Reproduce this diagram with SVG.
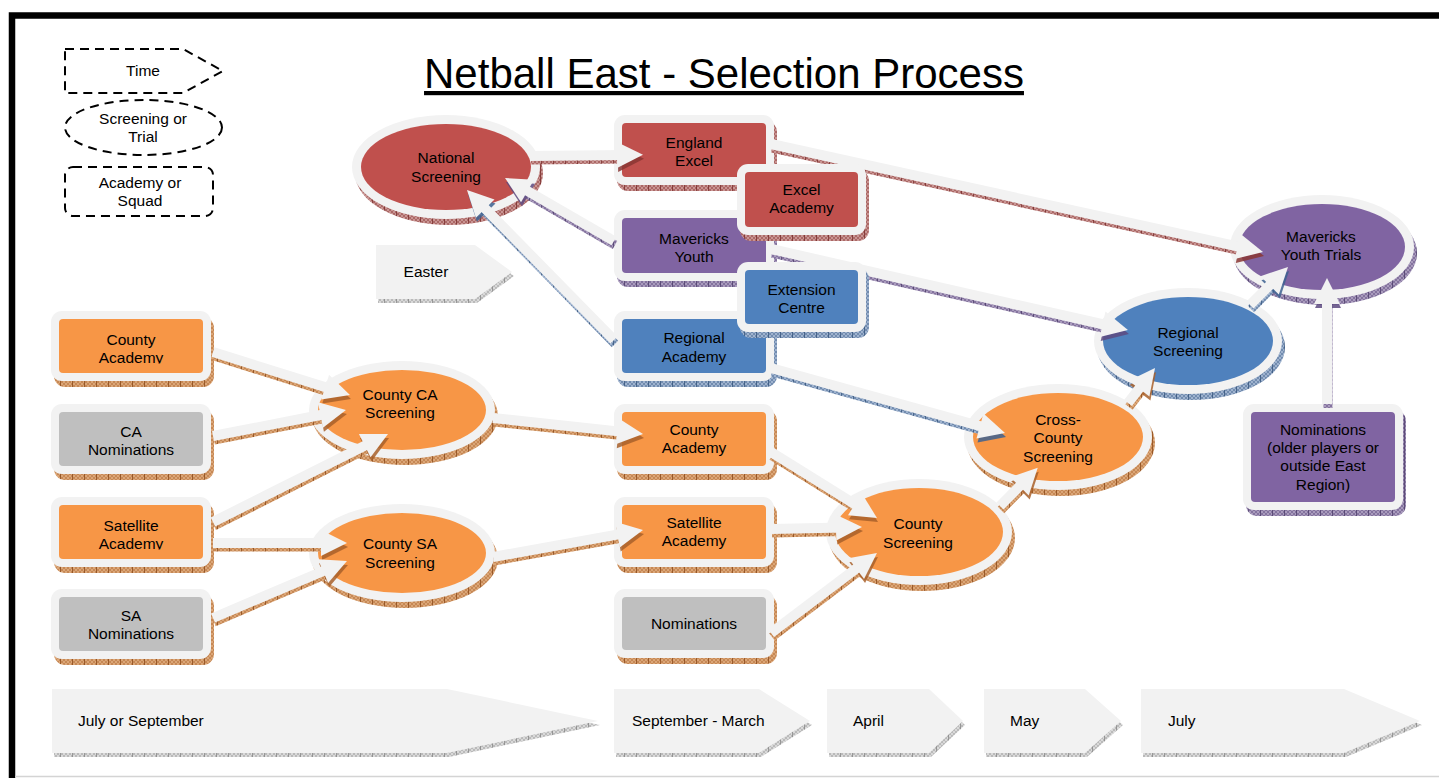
<svg xmlns="http://www.w3.org/2000/svg" width="1439" height="778" viewBox="0 0 1439 778">
<style>
.t{font-family:"Liberation Sans",Arial,sans-serif;font-size:15.5px;fill:#000;text-anchor:middle}
.tl{text-anchor:start}
.ring{fill:#f2f2f2}
.or{fill:#f79646}.rd{fill:#c0504d}.pu{fill:#8064a2}.bl{fill:#4f81bd}.gr{fill:#bfbfbf}
.dash{fill:#fff;stroke:#000;stroke-width:2;stroke-dasharray:9 6}
.tm{fill:#f2f2f2}
.ar{fill:none;stroke:#f2f2f2;stroke-width:10}
.sh{fill:none;stroke-width:9}
</style>
<defs>
<pattern id="hO" patternUnits="userSpaceOnUse" width="12" height="4"><rect width="12" height="4" fill="#dba677"/><path d="M0,4L4,0M4,4L8,0M8,4L12,0M0,0L4,4M4,0L8,4M8,0L12,4" stroke="#b06a33" stroke-width="0.5"/><path d="M0.5,0V4" stroke="#8c4a1a" stroke-width="0.8"/></pattern>
<pattern id="hR" patternUnits="userSpaceOnUse" width="12" height="4"><rect width="12" height="4" fill="#c99593"/><path d="M0,4L4,0M4,4L8,0M8,4L12,0M0,0L4,4M4,0L8,4M8,0L12,4" stroke="#8c3b39" stroke-width="0.5"/><path d="M0.5,0V4" stroke="#7a2e2c" stroke-width="0.8"/></pattern>
<pattern id="hP" patternUnits="userSpaceOnUse" width="12" height="4"><rect width="12" height="4" fill="#a99bbd"/><path d="M0,4L4,0M4,4L8,0M8,4L12,0M0,0L4,4M4,0L8,4M8,0L12,4" stroke="#5f4b7f" stroke-width="0.5"/><path d="M0.5,0V4" stroke="#4e3d6b" stroke-width="0.8"/></pattern>
<pattern id="hB" patternUnits="userSpaceOnUse" width="12" height="4"><rect width="12" height="4" fill="#9fb3cf"/><path d="M0,4L4,0M4,4L8,0M8,4L12,0M0,0L4,4M4,0L8,4M8,0L12,4" stroke="#44648f" stroke-width="0.5"/><path d="M0.5,0V4" stroke="#36547c" stroke-width="0.8"/></pattern>
<pattern id="hG" patternUnits="userSpaceOnUse" width="12" height="4"><rect width="12" height="4" fill="#d9d9d9"/><path d="M0,4L4,0M4,4L8,0M8,4L12,0M0,0L4,4M4,0L8,4M8,0L12,4" stroke="#9a9a9a" stroke-width="0.5"/><path d="M0.5,0V4" stroke="#888" stroke-width="0.8"/></pattern>
<marker id="mW" markerUnits="userSpaceOnUse" orient="auto" overflow="visible" markerWidth="40" markerHeight="40" refX="0" refY="0"><path d="M-8,-13L18,0L-8,13Z" fill="#f2f2f2"/></marker>
<marker id="mO" markerUnits="userSpaceOnUse" orient="auto" overflow="visible" markerWidth="40" markerHeight="40" refX="0" refY="0"><path d="M-8,-13L18,0L-8,13Z" fill="#a8602a" fill-opacity="0.85"/></marker>
<marker id="mR" markerUnits="userSpaceOnUse" orient="auto" overflow="visible" markerWidth="40" markerHeight="40" refX="0" refY="0"><path d="M-8,-13L18,0L-8,13Z" fill="#8a3634" fill-opacity="0.85"/></marker>
<marker id="mP" markerUnits="userSpaceOnUse" orient="auto" overflow="visible" markerWidth="40" markerHeight="40" refX="0" refY="0"><path d="M-8,-13L18,0L-8,13Z" fill="#5d4a80" fill-opacity="0.85"/></marker>
<marker id="mB" markerUnits="userSpaceOnUse" orient="auto" overflow="visible" markerWidth="40" markerHeight="40" refX="0" refY="0"><path d="M-8,-13L18,0L-8,13Z" fill="#3d6190" fill-opacity="0.85"/></marker>
<clipPath id="clipCA"><rect x="50" y="300" width="170" height="63.5"/></clipPath>
<clipPath id="clipSA"><rect x="50" y="490" width="170" height="59.5"/></clipPath>
</defs>

<rect width="1439" height="778" fill="#fff"/>
<g id="frame">
<path d="M12,778V15.5H1439" fill="none" stroke="#000" stroke-width="6.5"/>
<line x1="15" y1="776.5" x2="1439" y2="776.5" stroke="#d4d4d4" stroke-width="1.5"/>
</g>

<text id="title" class="t" x="724" y="88" style="font-size:42px" text-decoration="underline">Netball East - Selection Process</text>

<g id="legend">
<g id="legend-time"><path class="dash" d="M65,49H183L223,71L183,93H65Z"/><text class="t" x="143" y="76">Time</text></g>
<g id="legend-screening"><ellipse class="dash" cx="143.5" cy="127.5" rx="78.5" ry="27.5"/><text class="t" x="143" y="124">Screening or</text><text class="t" x="143" y="142">Trial</text></g>
<g id="legend-academy"><rect class="dash" x="65" y="167" width="148" height="49" rx="8"/><text class="t" x="140" y="188">Academy or</text><text class="t" x="140" y="206">Squad</text></g>
</g>

<g id="timeline">
<g id="time-july-sept"><polygon points="54,693 449,693 600,725 449,757 54,757" fill="url(#hG)"/><polygon class="tm" points="52,689 447,689 598,721 447,753 52,753"/><text class="t tl" x="78" y="726">July or September</text></g>
<g id="time-sept-march"><polygon points="616,693 761,693 812,725 761,757 616,757" fill="url(#hG)"/><polygon class="tm" points="614,689 759,689 810,721 759,753 614,753"/><text class="t tl" x="632" y="726">September - March</text></g>
<g id="time-april"><polygon points="829,693 931,693 965,725 931,757 829,757" fill="url(#hG)"/><polygon class="tm" points="827,689 929,689 963,721 929,753 827,753"/><text class="t tl" x="853" y="726">April</text></g>
<g id="time-may"><polygon points="986,693 1087,693 1123,725 1087,757 986,757" fill="url(#hG)"/><polygon class="tm" points="984,689 1085,689 1121,721 1085,753 984,753"/><text class="t tl" x="1010" y="726">May</text></g>
<g id="time-july"><polygon points="1143,693 1346,693 1422,725 1346,757 1143,757" fill="url(#hG)"/><polygon class="tm" points="1141,689 1344,689 1420,721 1344,753 1141,753"/><text class="t tl" x="1168" y="726">July</text></g>
<g id="time-easter"><polygon points="378,249 477,249 514,276 477,303 378,303" fill="url(#hG)"/><polygon class="tm" points="376,245 475,245 512,272 475,299 376,299"/><text class="t" x="426" y="277">Easter</text></g>
</g>

<g id="n-county-academy-l"><rect x="54" y="317" width="160" height="70" rx="11" fill="url(#hO)"/><rect class="ring" x="51" y="311" width="160" height="70" rx="11"/><rect class="or" x="59" y="319" width="144" height="54" rx="4"/><text class="t" x="131" y="345">County</text><text class="t" x="131" y="363" clip-path="url(#clipCA)">Academy</text></g>
<g id="n-ca-nominations"><rect x="54" y="410" width="160" height="70" rx="11" fill="url(#hO)"/><rect class="ring" x="51" y="404" width="160" height="70" rx="11"/><rect class="gr" x="59" y="412" width="144" height="54" rx="4"/><text class="t" x="131" y="437">CA</text><text class="t" x="131" y="455">Nominations</text></g>
<g id="n-satellite-academy-l"><rect x="54" y="503" width="160" height="70" rx="11" fill="url(#hO)"/><rect class="ring" x="51" y="497" width="160" height="70" rx="11"/><rect class="or" x="59" y="505" width="144" height="54" rx="4"/><text class="t" x="131" y="531">Satellite</text><text class="t" x="131" y="549" clip-path="url(#clipSA)">Academy</text></g>
<g id="n-sa-nominations"><rect x="54" y="595" width="160" height="70" rx="11" fill="url(#hO)"/><rect class="ring" x="51" y="589" width="160" height="70" rx="11"/><rect class="gr" x="59" y="597" width="144" height="54" rx="4"/><text class="t" x="131" y="621">SA</text><text class="t" x="131" y="639">Nominations</text></g>

<g id="n-county-ca-screening"><ellipse cx="405" cy="416" rx="93" ry="49" fill="url(#hO)"/><ellipse class="ring" cx="402" cy="410" rx="93" ry="49"/><ellipse class="or" cx="402" cy="410" rx="84" ry="40"/><text class="t" x="400" y="400">County CA</text><text class="t" x="400" y="418">Screening</text></g>
<g id="n-county-sa-screening"><ellipse cx="405" cy="559" rx="93" ry="49" fill="url(#hO)"/><ellipse class="ring" cx="402" cy="553" rx="93" ry="49"/><ellipse class="or" cx="402" cy="553" rx="84" ry="40"/><text class="t" x="400" y="549">County SA</text><text class="t" x="400" y="568">Screening</text></g>

<g id="n-national-screening"><ellipse cx="449" cy="173" rx="94" ry="52" fill="url(#hR)"/><ellipse class="ring" cx="446" cy="167" rx="94" ry="52"/><ellipse class="rd" cx="446" cy="167" rx="85" ry="43"/><text class="t" x="446" y="163">National</text><text class="t" x="446" y="182">Screening</text></g>

<g id="n-england-excel"><rect x="617" y="121" width="160" height="70" rx="11" fill="url(#hR)"/><rect class="ring" x="614" y="115" width="160" height="70" rx="11"/><rect class="rd" x="622" y="123" width="144" height="54" rx="4"/><text class="t" x="694" y="148">England</text><text class="t" x="694" y="166">Excel</text></g>
<g id="n-mavericks-youth"><rect x="617" y="216" width="160" height="71" rx="11" fill="url(#hP)"/><rect class="ring" x="614" y="210" width="160" height="71" rx="11"/><rect class="pu" x="622" y="218" width="144" height="55" rx="4"/><text class="t" x="694" y="244">Mavericks</text><text class="t" x="694" y="262">Youth</text></g>
<g id="n-regional-academy"><rect x="617" y="317" width="160" height="70" rx="11" fill="url(#hB)"/><rect class="ring" x="614" y="311" width="160" height="70" rx="11"/><rect class="bl" x="622" y="319" width="144" height="54" rx="4"/><text class="t" x="694" y="343">Regional</text><text class="t" x="694" y="362">Academy</text></g>
<g id="n-county-academy-m"><rect x="617" y="410" width="160" height="70" rx="11" fill="url(#hO)"/><rect class="ring" x="614" y="404" width="160" height="70" rx="11"/><rect class="or" x="622" y="412" width="144" height="54" rx="4"/><text class="t" x="694" y="435">County</text><text class="t" x="694" y="453">Academy</text></g>
<g id="n-satellite-academy-m"><rect x="617" y="503" width="160" height="70" rx="11" fill="url(#hO)"/><rect class="ring" x="614" y="497" width="160" height="70" rx="11"/><rect class="or" x="622" y="505" width="144" height="54" rx="4"/><text class="t" x="694" y="528">Satellite</text><text class="t" x="694" y="546">Academy</text></g>
<g id="n-nominations-m"><rect x="617" y="595" width="160" height="69" rx="11" fill="url(#hO)"/><rect class="ring" x="614" y="589" width="160" height="69" rx="11"/><rect class="gr" x="622" y="597" width="144" height="53" rx="4"/><text class="t" x="694" y="629">Nominations</text></g>

<g id="n-county-screening"><ellipse cx="922" cy="538" rx="93" ry="53" fill="url(#hO)"/><ellipse class="ring" cx="919" cy="532" rx="93" ry="53"/><ellipse class="or" cx="919" cy="532" rx="84" ry="44"/><text class="t" x="918" y="529">County</text><text class="t" x="918" y="548">Screening</text></g>
<g id="n-cross-county-screening"><ellipse cx="1061" cy="443" rx="94" ry="53" fill="url(#hO)"/><ellipse class="ring" cx="1058" cy="437" rx="94" ry="53"/><ellipse class="or" cx="1058" cy="437" rx="85" ry="44"/><text class="t" x="1058" y="425">Cross-</text><text class="t" x="1058" y="443">County</text><text class="t" x="1058" y="462">Screening</text></g>
<g id="n-regional-screening"><ellipse cx="1191" cy="347" rx="94" ry="53" fill="url(#hB)"/><ellipse class="ring" cx="1188" cy="341" rx="94" ry="53"/><ellipse class="bl" cx="1188" cy="341" rx="85" ry="44"/><text class="t" x="1188" y="338">Regional</text><text class="t" x="1188" y="356">Screening</text></g>
<g id="n-mavericks-youth-trials"><ellipse cx="1325" cy="253" rx="92" ry="52" fill="url(#hP)"/><ellipse class="ring" cx="1322" cy="247" rx="92" ry="52"/><ellipse class="pu" cx="1322" cy="247" rx="83" ry="43"/><text class="t" x="1321" y="242">Mavericks</text><text class="t" x="1321" y="260">Youth Trials</text></g>
<g id="n-nominations-older"><rect x="1246" y="410" width="160" height="106" rx="11" fill="url(#hP)"/><rect class="ring" x="1243" y="404" width="160" height="106" rx="11"/><rect class="pu" x="1251" y="412" width="144" height="90" rx="4"/><text class="t" x="1323" y="435">Nominations</text><text class="t" x="1323" y="453">(older players or</text><text class="t" x="1323" y="471">outside East</text><text class="t" x="1323" y="490">Region)</text></g>

<g id="connectors">
<g transform="translate(1,4)">
<path class="sh" stroke="url(#hO)" marker-end="url(#mO)" d="M213,352L332.8,389.6"/>
<path class="sh" stroke="url(#hO)" marker-end="url(#mO)" d="M213,436L328.3,413.5"/>
<path class="sh" stroke="url(#hO)" marker-end="url(#mO)" d="M213,522L371.9,442.1"/>
<path class="sh" stroke="url(#hO)" marker-end="url(#mO)" d="M213,543L329,543"/>
<path class="sh" stroke="url(#hO)" marker-end="url(#mO)" d="M213,618L330.4,568"/>
<path class="sh" stroke="url(#hO)" marker-end="url(#mO)" d="M493,418L625.1,432.1"/>
<path class="sh" stroke="url(#hO)" marker-end="url(#mO)" d="M493,557L625.3,533.2"/>
<path class="sh" stroke="url(#hO)" marker-end="url(#mO)" d="M771,452L861.7,508.5"/>
<path class="sh" stroke="url(#hO)" marker-end="url(#mO)" d="M771,529L844,527.4"/>
<path class="sh" stroke="url(#hO)" marker-end="url(#mO)" d="M771,633L862.6,563.8"/>
<path class="sh" stroke="url(#hO)" marker-end="url(#mO)" d="M1000,506L1025.1,480.6"/>
<path class="sh" stroke="url(#hB)" marker-end="url(#mB)" d="M771,368L987.7,428.2"/>
<path class="sh" stroke="url(#hO)" marker-end="url(#mO)" d="M1128,403L1144,382.3"/>
<path class="sh" stroke="url(#hP)" marker-end="url(#mP)" d="M771,249L1110.4,326"/>
<path class="sh" stroke="url(#hR)" marker-end="url(#mR)" d="M771,144L1245.4,248.1"/>
<path class="sh" stroke="url(#hB)" marker-end="url(#mB)" d="M1250,305L1275.3,279.7"/>
<path class="sh" stroke="url(#hP)" marker-end="url(#mP)" d="M1327,404L1327,296"/>
<path class="sh" stroke="url(#hR)" marker-end="url(#mR)" d="M530,156L625,155"/>
<path class="sh" stroke="url(#hP)" marker-end="url(#mP)" d="M614,241L520.6,187"/>
<path class="sh" stroke="url(#hB)" marker-end="url(#mB)" d="M614,340L479.6,202.9"/>
</g>
<g>
<path class="ar" marker-end="url(#mW)" d="M213,352L332.8,389.6"/>
<path class="ar" marker-end="url(#mW)" d="M213,436L328.3,413.5"/>
<path class="ar" marker-end="url(#mW)" d="M213,522L371.9,442.1"/>
<path class="ar" marker-end="url(#mW)" d="M213,543L329,543"/>
<path class="ar" marker-end="url(#mW)" d="M213,618L330.4,568"/>
<path class="ar" marker-end="url(#mW)" d="M493,418L625.1,432.1"/>
<path class="ar" marker-end="url(#mW)" d="M493,557L625.3,533.2"/>
<path class="ar" marker-end="url(#mW)" d="M771,452L861.7,508.5"/>
<path class="ar" marker-end="url(#mW)" d="M771,529L844,527.4"/>
<path class="ar" marker-end="url(#mW)" d="M771,633L862.6,563.8"/>
<path class="ar" marker-end="url(#mW)" d="M1000,506L1025.1,480.6"/>
<path class="ar" marker-end="url(#mW)" d="M771,368L987.7,428.2"/>
<path class="ar" marker-end="url(#mW)" d="M1128,403L1144,382.3"/>
<path class="ar" marker-end="url(#mW)" d="M771,249L1110.4,326"/>
<path class="ar" marker-end="url(#mW)" d="M771,144L1245.4,248.1"/>
<path class="ar" marker-end="url(#mW)" d="M1250,305L1275.3,279.7"/>
<path class="ar" marker-end="url(#mW)" d="M1327,404L1327,296"/>
<path class="ar" marker-end="url(#mW)" d="M530,156L625,155"/>
<path class="ar" marker-end="url(#mW)" d="M614,241L520.6,187"/>
<path class="ar" marker-end="url(#mW)" d="M614,340L479.6,202.9"/>
</g>
</g>

<g id="n-excel-academy"><rect x="740" y="170" width="129" height="71" rx="11" fill="url(#hR)"/><rect class="ring" x="737" y="164" width="129" height="71" rx="11"/><rect class="rd" x="745" y="172" width="113" height="55" rx="4"/><text class="t" x="801.5" y="195">Excel</text><text class="t" x="801.5" y="213">Academy</text></g>
<g id="n-extension-centre"><rect x="740" y="268" width="129" height="70" rx="11" fill="url(#hB)"/><rect class="ring" x="737" y="262" width="129" height="70" rx="11"/><rect class="bl" x="745" y="270" width="113" height="54" rx="4"/><text class="t" x="801.5" y="295">Extension</text><text class="t" x="801.5" y="313">Centre</text></g>
</svg>
